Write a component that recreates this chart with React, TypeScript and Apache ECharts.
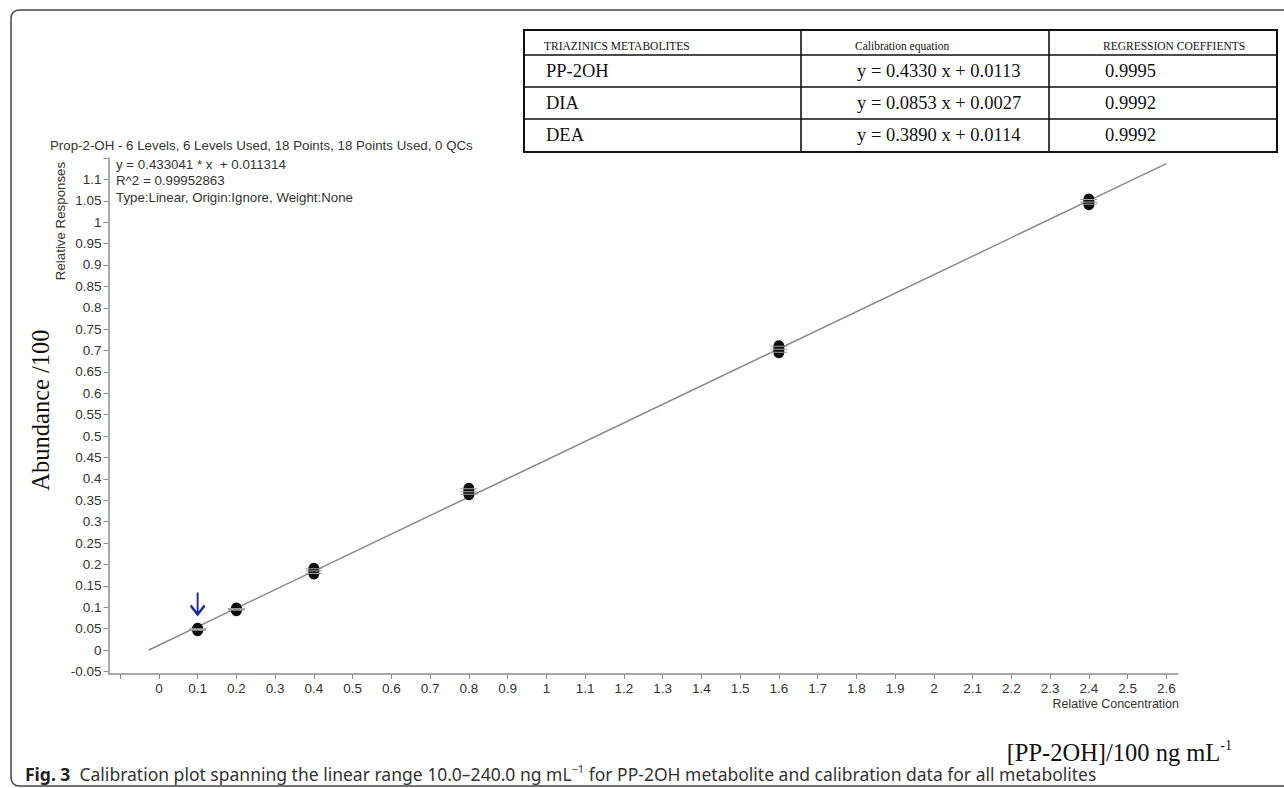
import React, { useEffect, useRef } from 'react';
import * as echarts from 'echarts';

// ---- data ----
const levels = [0.1, 0.2, 0.4, 0.8, 1.6, 2.4];
const replicateA = [0.046, 0.093, 0.179, 0.364, 0.696, 1.042];
const replicateB = [0.048, 0.095, 0.185, 0.37, 0.703, 1.047];
const replicateC = [0.05, 0.097, 0.19, 0.377, 0.71, 1.053];
const fitStart = [-0.026, 0];
const fitEnd = [2.6, 1.137];
const flaggedPoint = [0.1, 0.048];

const xTickValues = [-0.1, 0, 0.1, 0.2, 0.3, 0.4, 0.5, 0.6, 0.7, 0.8, 0.9, 1, 1.1, 1.2, 1.3, 1.4, 1.5, 1.6, 1.7, 1.8, 1.9, 2, 2.1, 2.2, 2.3, 2.4, 2.5, 2.6];
const xLabelValues = [0, 0.1, 0.2, 0.3, 0.4, 0.5, 0.6, 0.7, 0.8, 0.9, 1, 1.1, 1.2, 1.3, 1.4, 1.5, 1.6, 1.7, 1.8, 1.9, 2, 2.1, 2.2, 2.3, 2.4, 2.5, 2.6];
const yTickValues = [-0.05, 0, 0.05, 0.1, 0.15, 0.2, 0.25, 0.3, 0.35, 0.4, 0.45, 0.5, 0.55, 0.6, 0.65, 0.7, 0.75, 0.8, 0.85, 0.9, 0.95, 1, 1.05, 1.1, 1.15];
const yLabelValues = [-0.05, 0, 0.05, 0.1, 0.15, 0.2, 0.25, 0.3, 0.35, 0.4, 0.45, 0.5, 0.55, 0.6, 0.65, 0.7, 0.75, 0.8, 0.85, 0.9, 0.95, 1, 1.05, 1.1];

const headerText = 'Prop-2-OH - 6 Levels, 6 Levels Used, 18 Points, 18 Points Used, 0 QCs';
const fitInfo = ['y = 0.433041 * x  + 0.011314', 'R^2 = 0.99952863', 'Type:Linear, Origin:Ignore, Weight:None'];

const tableHeader = ['TRIAZINICS METABOLITES', 'Calibration equation', 'REGRESSION COEFFIENTS'];
const metabolites = ['PP-2OH', 'DIA', 'DEA'];
const equations = ['y = 0.4330 x + 0.0113', 'y = 0.0853 x + 0.0027', 'y = 0.3890 x + 0.0114'];
const coefficients = ['0.9995', '0.9992', '0.9992'];

const SANS = '"Liberation Sans", Arial, sans-serif';
const SERIF = '"Liberation Serif", "Times New Roman", serif';
const CAPTION = '"Noto Sans", "Open Sans", sans-serif';

function fmt(v: number) {
  return String(+Number(v).toFixed(2));
}

export default function App() {
  const ref = useRef<HTMLDivElement>(null);

  useEffect(() => {
    document.body.style.margin = '0';
    document.body.style.overflow = 'hidden';
    const chart = echarts.init(ref.current!, null, { renderer: 'svg' });

    const points: number[][] = [];
    levels.forEach((lv, i) => {
      points.push([lv, replicateA[i]]);
      points.push([lv, replicateB[i]]);
      points.push([lv, replicateC[i]]);
    });

    // table geometry
    const tL = 524, tR = 1277, tT = 30, tB = 152;
    const rowLines = [55, 87, 119];
    const colLines = [801, 1049];
    const colText = [546, 857, 1105];
    const rowCenters = [71, 103, 135];

    const tableEls: any[] = [
      { type: 'rect', shape: { x: tL, y: tT, width: tR - tL, height: tB - tT }, style: { fill: '#fff', stroke: '#111', lineWidth: 2 }, z: 10 },
    ];
    rowLines.forEach((y) => tableEls.push({ type: 'line', shape: { x1: tL, y1: y, x2: tR, y2: y }, style: { stroke: '#111', lineWidth: 1.6 }, z: 11 }));
    colLines.forEach((x) => tableEls.push({ type: 'line', shape: { x1: x, y1: tT, x2: x, y2: tB }, style: { stroke: '#111', lineWidth: 1.6 }, z: 11 }));
    tableHeader.forEach((t, i) =>
      tableEls.push({ type: 'text', x: colText[i] - 2, y: 46, z: 12, style: { text: t, fill: '#111', fontSize: 11.5, fontFamily: SERIF, textVerticalAlign: 'middle' } })
    );
    [metabolites, equations, coefficients].forEach((col, ci) =>
      col.forEach((t, ri) =>
        tableEls.push({ type: 'text', x: colText[ci], y: rowCenters[ri], z: 12, style: { text: t, fill: '#111', fontSize: 18.5, fontFamily: SERIF, textVerticalAlign: 'middle' } })
      )
    );

    const option: any = {
      animation: false,
      backgroundColor: '#fff',
      grid: { left: 108.5, right: 106, top: 158, bottom: 114, containLabel: false },
      xAxis: {
        type: 'value',
        min: -0.13,
        max: 2.63,
        axisLine: { show: true, onZero: false, lineStyle: { color: '#8c8c8c', width: 1.5 } },
        axisTick: { show: true, customValues: xTickValues, length: 5, lineStyle: { color: '#8c8c8c', width: 1 } },
        axisLabel: { customValues: xLabelValues, formatter: fmt, color: '#333', fontSize: 13.5, fontFamily: SANS, margin: 7 },
        splitLine: { show: false },
      },
      yAxis: {
        type: 'value',
        min: -0.056,
        max: 1.15,
        axisLine: { show: true, onZero: false, lineStyle: { color: '#8c8c8c', width: 1.5 } },
        axisTick: { show: true, customValues: yTickValues, length: 5, lineStyle: { color: '#8c8c8c', width: 1 } },
        axisLabel: { customValues: yLabelValues, formatter: fmt, color: '#333', fontSize: 13.5, fontFamily: SANS, margin: 7 },
        splitLine: { show: false },
      },
      series: [
        {
          type: 'line',
          data: [fitStart, fitEnd],
          showSymbol: false,
          lineStyle: { color: '#8a8a8a', width: 1.5 },
          z: 2,
        },
        {
          type: 'scatter',
          data: points,
          symbol: 'circle',
          symbolSize: [11, 12],
          itemStyle: { color: '#0d0d0d', opacity: 1 },
          z: 3,
          markPoint: {
            symbol: 'path://M7,0 L7,22 M0,13 L7,22 L14,13',
            symbolSize: [14, 22],
            symbolOffset: [0, -26],
            itemStyle: { color: 'none', borderColor: '#1f2a9a', borderWidth: 2.4 },
            label: { show: false },
            data: [{ coord: flaggedPoint }],
          },
        },
        {
          type: 'scatter',
          data: points,
          symbol: 'rect',
          symbolSize: [17, 1],
          itemStyle: { color: '#a0a0a0', opacity: 1 },
          z: 4,
        },
      ],
      graphic: [
        { type: 'rect', shape: { x: 11, y: 10, width: 1300, height: 776, r: 8 }, style: { fill: 'none', stroke: '#444', lineWidth: 1.5 }, z: 0, silent: true },
        { type: 'text', x: 50, y: 145, style: { text: headerText, fill: '#333', fontSize: 13.3, fontFamily: SANS, textVerticalAlign: 'middle' } },
        ...fitInfo.map((t, i) => ({ type: 'text', x: 116, y: 164 + i * 16.5, style: { text: t, fill: '#333', fontSize: 13.3, fontFamily: SANS, textVerticalAlign: 'middle' } })),
        { type: 'text', x: 60, y: 221, rotation: Math.PI / 2, style: { text: 'Relative Responses', fill: '#333', fontSize: 13.3, fontFamily: SANS, textAlign: 'center', textVerticalAlign: 'middle' } },
        { type: 'text', x: 40, y: 410, rotation: Math.PI / 2, style: { text: 'Abundance /100', fill: '#111', fontSize: 24.5, fontFamily: SERIF, textAlign: 'center', textVerticalAlign: 'middle' } },
        { type: 'text', x: 1179, y: 704, style: { text: 'Relative Concentration', fill: '#333', fontSize: 12.5, fontFamily: SANS, textAlign: 'right', textVerticalAlign: 'middle' } },
        {
          type: 'text', x: 1232, y: 752,
          style: {
            text: '[PP-2OH]/100 ng mL{s|-1}', fill: '#111', fontSize: 24.5, fontFamily: SERIF, textAlign: 'right', textVerticalAlign: 'middle',
            rich: { s: { fontSize: 14, fontFamily: SERIF, fill: '#111', verticalAlign: 'top', lineHeight: 28 } },
          },
        },
        {
          type: 'text', x: 25, y: 774,
          style: {
            text: '{b|Fig. 3}  Calibration plot spanning the linear range 10.0–240.0 ng mL{s|−1} for PP-2OH metabolite and calibration data for all metabolites',
            fill: '#333', fontSize: 17.5, fontFamily: CAPTION, textVerticalAlign: 'middle',
            rich: {
              b: { fontSize: 17.5, fontFamily: CAPTION, fontWeight: 'bold', fill: '#222' },
              s: { fontSize: 11, fontFamily: CAPTION, fill: '#333', verticalAlign: 'top', lineHeight: 22 },
            },
          },
        },
        ...tableEls,
      ],
    };

    chart.setOption(option);
    return () => chart.dispose();
  }, []);

  return <div ref={ref} style={{ position: 'absolute', left: 0, top: 0, width: 1284, height: 788 }} />;
}
